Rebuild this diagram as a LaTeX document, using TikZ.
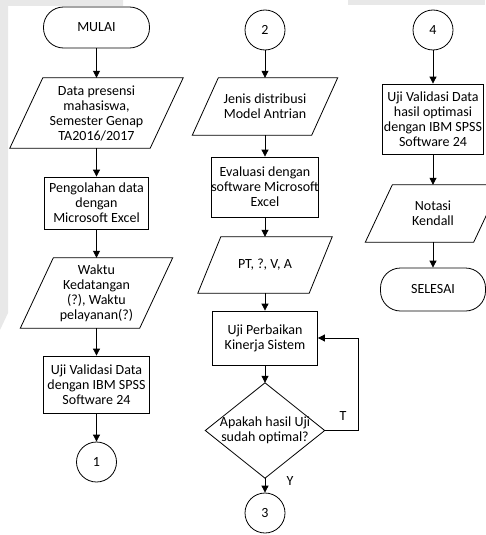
\documentclass[tikz,border=0pt]{standalone}
\usepackage{fontspec}
\setmainfont{Carlito}
\usetikzlibrary{arrows.meta}
\definecolor{wm}{HTML}{E8E8E8}
\newcommand\drawpara[2]{\draw[line width=0.8pt] ([xshift=#2]#1.north west) -- (#1.north east) -- ([xshift=-#2]#1.south east) -- (#1.south west) -- cycle;}
\begin{document}
\begin{tikzpicture}[x=1pt,y=-1pt,
  box/.style={draw, line width=0.8pt, inner sep=0pt, align=center, font=\fontsize{14}{15}\selectfont},
  term/.style={box, rounded corners=20pt},
  conn/.style={box, circle, minimum size=40pt},
  txt/.style={inner sep=0pt, align=center, font=\fontsize{14}{15}\selectfont},
  arr/.style={line width=0.8pt, -{Triangle[length=7pt,width=7pt]}}]
\useasboundingbox (0,0) rectangle (485,535);
% background watermark
\fill[wm] (0,0) -- (123,0) -- (123,6) -- (8,6) -- (8,313) -- (0,330) -- cycle;
\fill[wm] (348,0) rectangle (485,5);
% column 1
\node[term, minimum width=106pt, minimum height=41pt] (mulai) at (96.5,27.5) {MULAI};
\node[txt, minimum width=173pt, minimum height=70pt] (p1) at (96.5,113) {Data presensi\\mahasiswa,\\Semester Genap\\TA2016/2017};
\drawpara{p1}{33pt}
\node[box, minimum width=104pt, minimum height=52pt] (r1) at (96.5,203) {Pengolahan data\\dengan\\Microsoft Excel};
\node[txt, minimum width=152pt, minimum height=70pt] (p2) at (96.5,293) {Waktu\\Kedatangan\\(?), Waktu\\pelayanan(?)};
\drawpara{p2}{33pt}
\node[box, minimum width=106pt, minimum height=57pt] (r2) at (96.5,384.5) {Uji Validasi Data\\dengan IBM SPSS\\Software 24};
\node[conn] (c1) at (96.5,462) {1};
\draw[arr] (mulai) -- (p1);
\draw[arr] (p1) -- (r1);
\draw[arr] (r1) -- (p2);
\draw[arr] (p2) -- (r2);
\draw[arr] (r2) -- (c1);
% column 2
\node[conn] (c2) at (265,30) {2};
\node[txt, minimum width=145pt, minimum height=57pt] (p3) at (265,106.5) {Jenis distribusi\\Model Antrian};
\drawpara{p3}{26pt}
\node[box, minimum width=106pt, minimum height=60pt] (r3) at (265,187) {Evaluasi dengan\\software Microsoft\\Excel};
\node[txt, minimum width=134pt, minimum height=56pt] (p4) at (265,265) {PT, ?, V, A};
\drawpara{p4}{23pt}
\node[box, minimum width=105pt, minimum height=54pt] (r4) at (265,338) {Uji Perbaikan\\Kinerja Sistem};
\node[txt, minimum width=119pt, minimum height=95pt] (d) at (265,430.5) {Apakah hasil Uji\\sudah optimal?};
\draw[line width=0.8pt] (d.north) -- (d.east) -- (d.south) -- (d.west) -- cycle;
\node[conn] (c3) at (265,513) {3};
\coordinate (loop) at (358,338);
\draw[arr] (c2) -- (p3);
\draw[arr] (p3) -- (r3);
\draw[arr] (r3) -- (p4);
\draw[arr] (p4) -- (r4);
\draw[arr] (r4) -- (d.north);
\draw[arr] (d.south) -- (c3);
\draw[arr] (d.east) -- (d.east -| loop) -- (loop) -- (r4.east);
\node[txt] (lT) at (343,416) {T};
\node[txt] (lY) at (290,481) {Y};
% column 3
\node[conn] (c4) at (433,30) {4};
\node[box, minimum width=101pt, minimum height=70pt] (r5) at (433,119) {Uji Validasi Data\\hasil optimasi\\dengan IBM SPSS\\Software 24};
\node[txt, minimum width=135pt, minimum height=57pt] (p5) at (433,213.5) {Notasi\\Kendall};
\drawpara{p5}{27pt}
\node[term, minimum width=105pt, minimum height=43pt] (sel) at (433,289.5) {SELESAI};
\draw[arr] (c4) -- (r5);
\draw[arr] (r5) -- (p5);
\draw[arr] (p5) -- (sel);
\end{tikzpicture}
\end{document}
